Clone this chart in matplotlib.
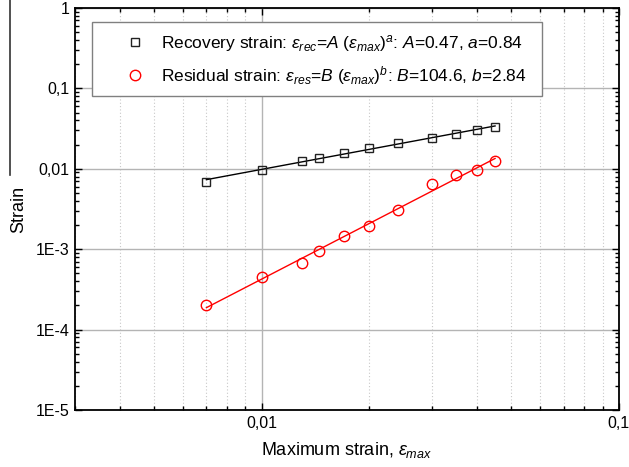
import matplotlib
matplotlib.use("Agg")
import matplotlib.pyplot as plt
import numpy as np
from matplotlib.ticker import FixedLocator, LogLocator, NullFormatter
from matplotlib.lines import Line2D
from matplotlib.patches import Rectangle

plt.rcParams["font.family"] = ["Liberation Sans", "DejaVu Sans"]
plt.rcParams["mathtext.fontset"] = "custom"
plt.rcParams["mathtext.rm"] = "Liberation Sans"
plt.rcParams["mathtext.it"] = "Liberation Sans:italic"

# maximum strain levels of the cycles
max_strain = [0.007, 0.01, 0.013, 0.0145, 0.017, 0.02, 0.024, 0.03, 0.035, 0.04, 0.045]
recovery = [0.0069, 0.0097, 0.0125, 0.0137, 0.0157, 0.0183, 0.021, 0.024, 0.027, 0.0305, 0.0330]
residual = [2.0e-4, 4.5e-4, 6.7e-4, 9.5e-4, 1.45e-3, 1.95e-3, 3.1e-3, 6.4e-3, 8.3e-3, 9.7e-3, 0.0125]

y_ticks = [1e-5, 1e-4, 1e-3, 1e-2, 1e-1, 1]
y_labels = ["1E-5", "1E-4", "1E-3", "0,01", "0,1", "1"]
x_ticks = [0.01, 0.1]
x_labels = ["0,01", "0,1"]

rec_label = (r"Recovery strain: $\varepsilon_{rec}$=$A\ (\varepsilon_{max})^{a}$: "
             r"$A$=0.47, $a$=0.84")
res_label = (r"Residual strain: $\varepsilon_{res}$=$B\ (\varepsilon_{max})^{b}$: "
             r"$B$=104.6, $b$=2.84")


def power_fit(x, y):
    # straight line in log-log space
    (slope, icpt) = np.polyfit(np.log10(x), np.log10(y), 1)
    xs = np.array([min(x), max(x)])
    return xs, 10 ** icpt * xs ** slope


fig = plt.figure(figsize=(6.29, 4.67), dpi=100)
ax = fig.add_axes([0.1192, 0.122, 0.8648, 0.861])
ax.set_xscale("log")
ax.set_yscale("log")
ax.set_xlim(0.003, 0.1)
ax.set_ylim(1e-5, 1)

ax.grid(True, which="major", color="#b4b4b4", linewidth=1.0)
ax.xaxis.grid(True, which="minor", color="#c8c8c8", linestyle=(0, (1, 2)), linewidth=0.8)
ax.set_axisbelow(True)

(fx, fy) = power_fit(max_strain, recovery)
ax.plot(fx, fy, color="k", linewidth=1.0)
(fx, fy) = power_fit(max_strain, residual)
ax.plot(fx, fy, color="red", linewidth=1.0)
ax.plot(max_strain, recovery, linestyle="none", marker="s", ms=6,
        mfc="none", mec="#222222", mew=1.0)
ax.plot(max_strain, residual, linestyle="none", marker="o", ms=7.5,
        mfc="none", mec="red", mew=1.0)

ax.yaxis.set_major_locator(FixedLocator(y_ticks))
ax.set_yticklabels(y_labels)
ax.yaxis.set_minor_locator(LogLocator(base=10, subs=np.arange(2, 10)))
ax.yaxis.set_minor_formatter(NullFormatter())
ax.xaxis.set_major_locator(FixedLocator(x_ticks))
ax.set_xticklabels(x_labels)
ax.xaxis.set_minor_locator(LogLocator(base=10, subs=np.arange(2, 10)))
ax.xaxis.set_minor_formatter(NullFormatter())
ax.tick_params(which="both", direction="in", top=True, right=True, width=1.0,
               labelsize=11.5, colors="k")
ax.tick_params(which="major", length=5, pad=4)
ax.tick_params(which="minor", length=3)
for sp in ax.spines.values():
    sp.set_linewidth(1.3)

ax.set_xlabel(r"Maximum strain, $\varepsilon_{max}$", fontsize=13, labelpad=7)
ax.set_ylabel("Strain", fontsize=13, labelpad=6)

# legend box drawn separately so the markers can sit further in
box = Rectangle((0.031, 0.781), 0.827, 0.184, transform=ax.transAxes,
                facecolor="white", edgecolor="#808080", linewidth=1.0, zorder=4)
ax.add_patch(box)
handles = [
    Line2D([], [], linestyle="none", marker="s", ms=6, mfc="none", mec="#222222"),
    Line2D([], [], linestyle="none", marker="o", ms=7.5, mfc="none", mec="red"),
]
leg = ax.legend(handles, [rec_label, res_label], loc="center left",
                bbox_to_anchor=(0.095, 0.871), borderaxespad=0, borderpad=0,
                frameon=False, fontsize=12.5, handlelength=1.0,
                labelspacing=0.55, handletextpad=1.0)
leg.set_zorder(5)

# frame line on the left edge of the figure
fig.add_artist(Line2D([0.016, 0.016], [0.625, 1.0], color="#333333", linewidth=1.2))

fig.savefig("out.png", dpi=100)
